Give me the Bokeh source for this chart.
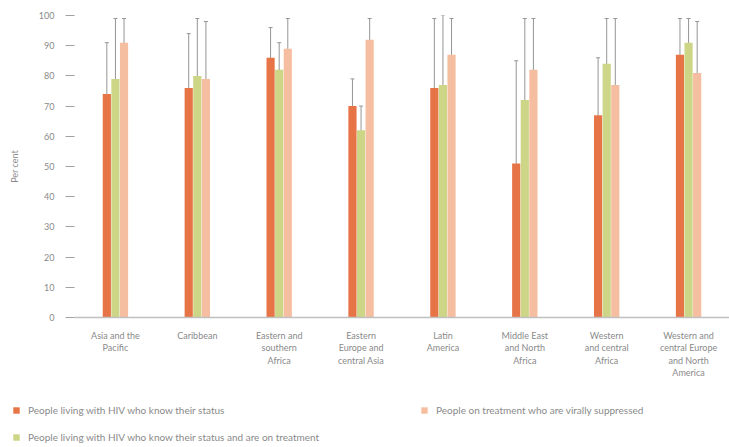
from bokeh.plotting import figure
from bokeh.layouts import column, row
from bokeh.models import (Range1d, FixedTicker, Whisker, ColumnDataSource, Legend,
                          LegendItem, TeeHead)
from bokeh.embed import file_html
from bokeh.resources import INLINE
import numpy as np

categories = ["Asia and the\nPacific", "Caribbean", "Eastern and\nsouthern\nAfrica",
              "Eastern\nEurope and\ncentral Asia", "Latin\nAmerica",
              "Middle East\nand North\nAfrica", "Western\nand central\nAfrica",
              "Western and\ncentral Europe\nand North\nAmerica"]

know = [74, 76, 86, 70, 76, 51, 67, 87]
know_lo = [55, 62, 78, 60, 55, 32, 50, 73]
know_hi = [91, 94, 96, 79, 99, 85, 86, 99]

treat = [79, 80, 82, 62, 77, 72, 84, 91]
treat_lo = [57, 63, 69, 51, 50, 47, 65, 69]
treat_hi = [99, 99, 91, 70, 100, 99, 99, 99]

supp = [91, 79, 89, 92, 87, 82, 77, 81]
supp_lo = [65, 62, 75, 80, 56, 54, 59, 62]
supp_hi = [99, 98, 99, 99, 99, 99, 99, 98]

series_names = ["People living with HIV who know their status",
                "People living with HIV who know their status and are on treatment",
                "People on treatment who are virally suppressed"]
colors = ["#E77446", "#CDD586", "#F6BEA0"]
y_ticks = list(range(0, 101, 10))

FONT = "Lato"
GREY = "#8a8a8a"
WGREY = "#959595"

p = figure(width=729, height=385, output_backend="svg", toolbar_location=None,
           x_range=Range1d(-0.5, 7.5), y_range=Range1d(0, 100),
           min_border_left=74, min_border_right=0, min_border_top=15,
           min_border_bottom=68)
p.outline_line_color = None
p.grid.grid_line_color = None

idx = np.arange(len(categories))
offsets = [-0.105, 0.0, 0.105]
vals = [know, treat, supp]
los = [know_lo, treat_lo, supp_lo]
his = [know_hi, treat_hi, supp_hi]
for k in range(3):
    src = ColumnDataSource(dict(x=idx + offsets[k], top=vals[k], lo=los[k], hi=his[k]))
    p.vbar(x="x", top="top", bottom=0, width=0.1, source=src,
           fill_color=colors[k], line_color=None)
    w = Whisker(base="x", lower="lo", upper="hi", source=src,
                line_color=WGREY, line_width=1,
                upper_head=TeeHead(size=4, line_color=WGREY, line_width=1),
                lower_head=TeeHead(size=4, line_color=WGREY, line_width=1))
    p.add_layout(w)

# y axis
p.yaxis.ticker = FixedTicker(ticks=y_ticks)
p.yaxis.axis_line_color = None
p.yaxis.major_tick_out = 9
p.yaxis.major_tick_in = 0
p.yaxis.major_tick_line_color = "#a0a0a0"
p.yaxis.minor_tick_line_color = None
p.yaxis.major_label_standoff = 11
p.yaxis.major_label_text_font = FONT
p.yaxis.major_label_text_font_size = "9px"
p.yaxis.major_label_text_color = GREY
p.yaxis.axis_label = "Per cent"
p.yaxis.axis_label_text_font = FONT
p.yaxis.axis_label_text_font_size = "9px"
p.yaxis.axis_label_text_font_style = "normal"
p.yaxis.axis_label_text_color = GREY
p.yaxis.axis_label_standoff = 16

# x axis
p.xaxis.ticker = FixedTicker(ticks=list(idx))
p.xaxis.major_label_overrides = {int(i): c for i, c in zip(idx, categories)}
p.xaxis.axis_line_color = "#c0c0c0"
p.xaxis.axis_line_width = 1.5
p.xaxis.major_tick_line_color = None
p.xaxis.minor_tick_line_color = None
p.xaxis.major_label_standoff = 6
p.xaxis.major_label_text_font = FONT
p.xaxis.major_label_text_font_size = "9px"
p.xaxis.major_label_text_color = GREY
p.xaxis.major_label_text_line_height = 1.15

# legend figure
lf = figure(width=729, height=62, output_backend="svg", toolbar_location=None,
            x_range=Range1d(0, 1), y_range=Range1d(0, 1),
            x_axis_type=None, y_axis_type=None,
            min_border_left=0, min_border_right=0, min_border_top=0,
            min_border_bottom=0)
lf.outline_line_color = None
lf.grid.grid_line_color = None
dummies = [lf.vbar(x=[50], top=[1], width=0.1, fill_color=c, line_color=None)
           for c in colors]

def mk_legend(items, loc):
    return Legend(items=items, location=loc, orientation="vertical",
                  background_fill_alpha=0, border_line_color=None,
                  label_text_font=FONT, label_text_font_size="10px",
                  label_text_color=GREY, glyph_width=8, glyph_height=8,
                  label_height=12, spacing=15, padding=0, margin=0,
                  label_standoff=8)

leg1 = mk_legend([LegendItem(label=series_names[0], renderers=[dummies[0]]),
                  LegendItem(label=series_names[1], renderers=[dummies[1]])], (12, 4))
leg2 = mk_legend([LegendItem(label=series_names[2], renderers=[dummies[2]])], (420, 31))
lf.add_layout(leg1)
lf.add_layout(leg2)

open("out.html", "w").write(file_html(column(p, row(lf), spacing=0), INLINE))
